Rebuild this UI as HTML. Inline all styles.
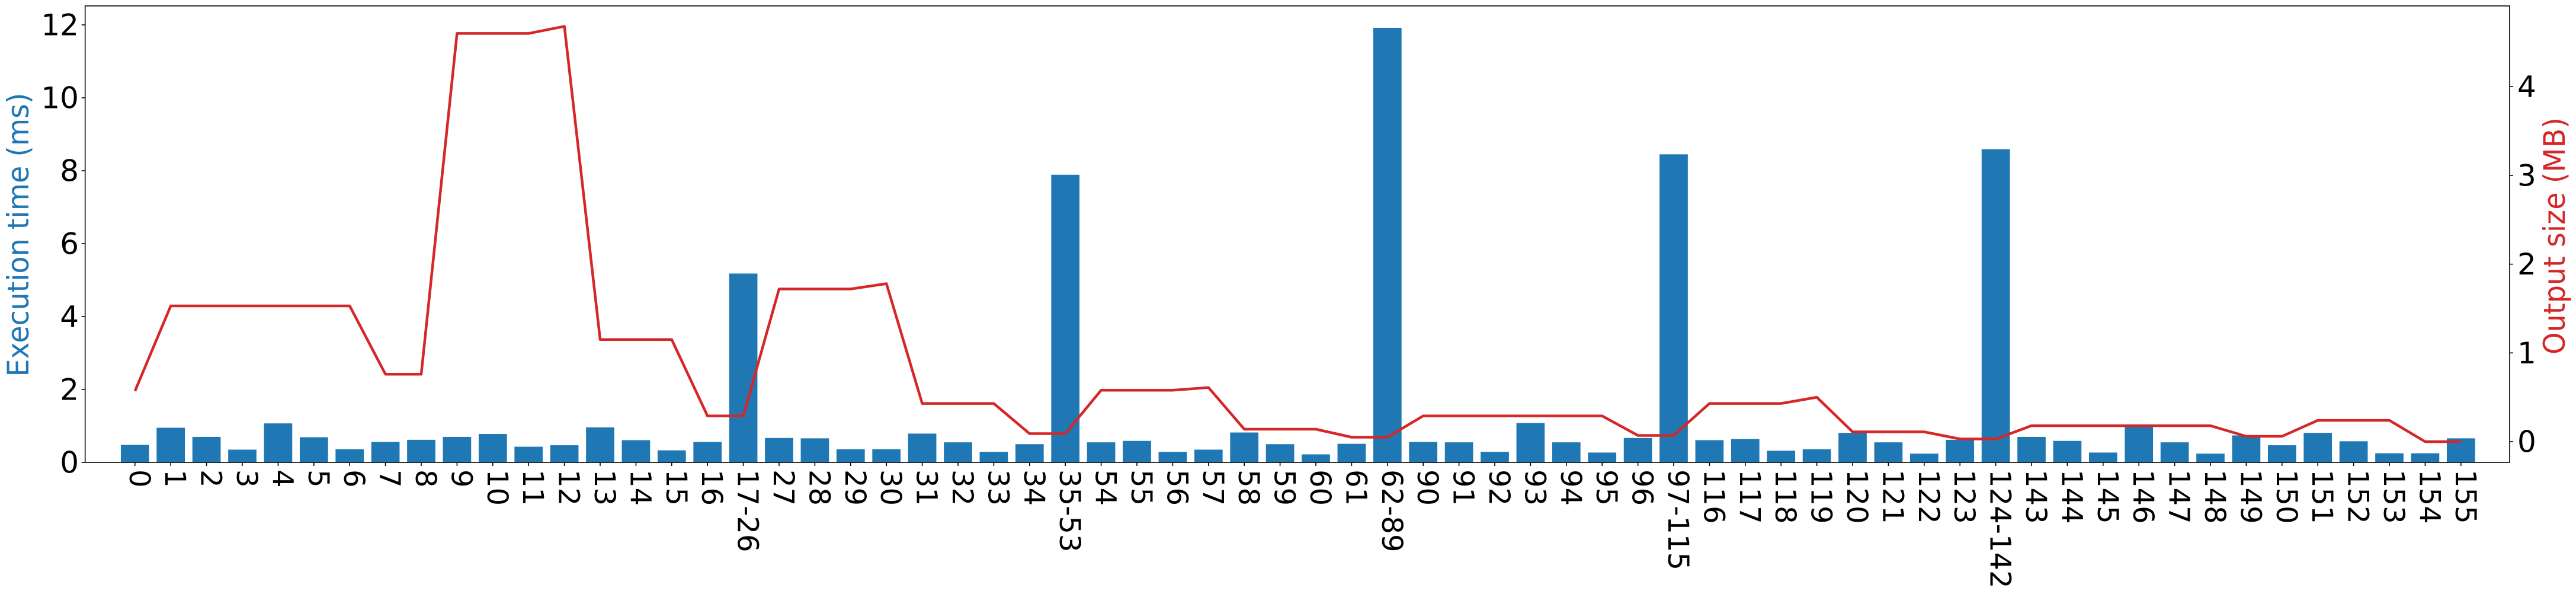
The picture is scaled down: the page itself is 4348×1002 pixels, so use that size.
<!DOCTYPE html>
<html><head><meta charset="utf-8">
<style>
html,body{margin:0;padding:0;background:#fff;}
svg{display:block;}
text{font-family:"DejaVu Sans","Liberation Sans",sans-serif;}
</style></head>
<body>
<svg id="chart" width="4348" height="1002" viewBox="0 0 4348 1002" xmlns="http://www.w3.org/2000/svg">
<rect x="0" y="0" width="4348" height="1002" fill="#fff"/>
<g id="bars"></g>
<g id="line"></g>
<g id="axes"></g>
<text transform="translate(48,396) rotate(-90)" text-anchor="middle" font-size="50" fill="#1f77b4" textLength="479" lengthAdjust="spacingAndGlyphs">Execution time (ms)</text>
<text transform="translate(4329,398) rotate(-90)" text-anchor="middle" font-size="50" fill="#d62728" textLength="400" lengthAdjust="spacingAndGlyphs">Output size (MB)</text>
</svg>
<script>
const categories = ["0","1","2","3","4","5","6","7","8","9","10","11","12","13","14","15","16","17-26","27","28","29","30","31","32","33","34","35-53","54","55","56","57","58","59","60","61","62-89","90","91","92","93","94","95","96","97-115","116","117","118","119","120","121","122","123","124-142","143","144","145","146","147","148","149","150","151","152","153","154","155"];
const execTime = [0.48,0.95,0.70,0.35,1.07,0.69,0.36,0.56,0.62,0.70,0.78,0.43,0.47,0.96,0.61,0.33,0.56,5.18,0.67,0.66,0.36,0.36,0.79,0.55,0.29,0.50,7.89,0.55,0.59,0.29,0.35,0.82,0.50,0.22,0.51,11.92,0.56,0.55,0.29,1.08,0.55,0.27,0.67,8.45,0.61,0.64,0.32,0.36,0.81,0.55,0.24,0.62,8.59,0.70,0.59,0.27,0.99,0.55,0.24,0.74,0.47,0.81,0.58,0.25,0.25,0.66];
const outputSize = [0.57,1.53,1.53,1.53,1.53,1.53,1.53,0.76,0.76,4.60,4.60,4.60,4.68,1.15,1.15,1.15,0.29,0.29,1.72,1.72,1.72,1.78,0.43,0.43,0.43,0.09,0.09,0.58,0.58,0.58,0.61,0.14,0.14,0.14,0.05,0.05,0.29,0.29,0.29,0.29,0.29,0.29,0.07,0.07,0.43,0.43,0.43,0.50,0.11,0.11,0.11,0.03,0.03,0.18,0.18,0.18,0.18,0.18,0.18,0.06,0.06,0.24,0.24,0.24,0.00,0.00];
const leftTicks = [0,2,4,6,8,10,12];
const rightTicks = [0,1,2,3,4];

const NS = "http://www.w3.org/2000/svg";
const PL = 143.7, PR = 4236, PT = 10, PB = 780;
const x0 = 227.8, step = 60.4, barW = 47.7;
function xs(i){ return x0 + i*step; }
function yL(v){ return 780 - v*61.5; }
function yR(v){ return 745 - v*149.7; }
function mk(tag, attrs, parent){
  const e = document.createElementNS(NS, tag);
  for (const k in attrs) e.setAttribute(k, attrs[k]);
  parent.appendChild(e); return e;
}
const gb = document.getElementById('bars');
const gl = document.getElementById('line');
const ga = document.getElementById('axes');

categories.forEach((c,i)=>{
  const y = yL(execTime[i]);
  const r = mk('rect',{x:xs(i)-barW/2,y:y,width:barW,height:780-y,fill:'#1f77b4'},gb);
  
  
});
const pts = outputSize.map((v,i)=>xs(i).toFixed(1)+','+yR(v).toFixed(1)).join(' ');
const pl = mk('polyline',{points:pts,fill:'none',stroke:'#d62728','stroke-width':4.5,'stroke-linejoin':'round'},gl);



// frame
const fr = mk('rect',{x:PL,y:PT,width:PR-PL,height:PB-PT,fill:'none',stroke:'#000','stroke-width':1.6},ga);



// x ticks and labels
categories.forEach((c,i)=>{
  const x = xs(i);
  mk('line',{x1:x,y1:PB,x2:x,y2:PB+6,stroke:'#000','stroke-width':1.6},ga);
  const t = mk('text',{transform:`translate(${(x-9).toFixed(1)},792) rotate(90)`,'font-size':48,fill:'#000'},ga);
  t.textContent = c;
  
  
});
leftTicks.forEach(v=>{
  const y = yL(v);
  mk('line',{x1:PL-6,y1:y,x2:PL,y2:y,stroke:'#000','stroke-width':1.6},ga);
  const t = mk('text',{x:133,y:y+17.5,'text-anchor':'end','font-size':50,fill:'#000'},ga);
  t.textContent = v;
  
  
});
rightTicks.forEach(v=>{
  const y = yR(v);
  mk('line',{x1:PR,y1:y,x2:PR+6,y2:y,stroke:'#000','stroke-width':1.6},ga);
  const t = mk('text',{x:4249,y:y+17.5,'text-anchor':'start','font-size':50,fill:'#000'},ga);
  t.textContent = v;
  
  
});
</script>
</body></html>
